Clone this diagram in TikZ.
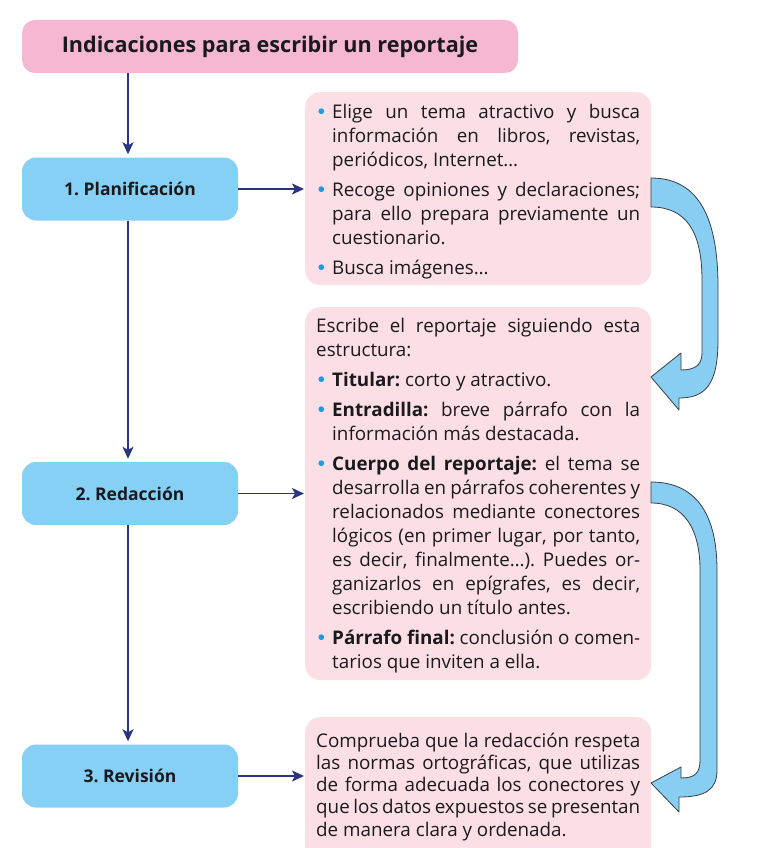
\documentclass[tikz,border=0pt]{standalone}
\usepackage{fontspec}
\setmainfont{Open Sans}
\usetikzlibrary{arrows.meta}
\definecolor{titlepink}{RGB}{245,183,210}
\definecolor{stepblue}{RGB}{135,208,245}
\definecolor{softpink}{RGB}{252,223,229}
\definecolor{navy}{RGB}{42,52,128}
\definecolor{dotblue}{RGB}{30,155,224}
\definecolor{txt}{RGB}{26,26,30}
\definecolor{curvefill}{RGB}{135,206,242}
\definecolor{curveline}{RGB}{60,60,70}
\frenchspacing
% justified line / last line / bulleted variants
\newcommand\jl[1]{\hbox to 324pt{#1}}
\newcommand\el[1]{\hbox to 324pt{#1\hfil}}
\newcommand\bjl[1]{\moveright16pt\hbox to 308pt{#1}}
\newcommand\bel[1]{\moveright16pt\hbox to 308pt{#1\hfil}}
\newcommand\bdot{\llap{\tikz[baseline=-7pt]\fill[dotblue] (0,0) circle (2.9pt);\hspace{8pt}}}
\newcommand\strt{\rule{0pt}{18pt}}
\begin{document}
\begin{tikzpicture}[x=1pt,y=-1pt,
  stepbox/.style={fill=stepblue, rounded corners=14pt, minimum width=216pt, minimum height=63pt, inner sep=0pt, font=\fontsize{17.5}{20}\selectfont\bfseries, text=txt},
  panel/.style={fill=softpink, rounded corners=15pt, minimum width=346pt, inner sep=0pt, anchor=north west},
  bodytext/.style={anchor=north west, inner sep=0pt, font=\fontsize{18.8}{24}\selectfont\frenchspacing, text=txt},
  link/.style={draw=navy, line width=1.8pt, -{Stealth[length=12pt,width=11pt,inset=3pt]}},
  bigarrow/.style={fill=curvefill, draw=curveline, line width=0.8pt, line join=round}]
\useasboundingbox (0,0) rectangle (760,848);
\clip (0,0) rectangle (760,848);

\node[fill=titlepink, rounded corners=13pt, minimum width=496pt, minimum height=53pt, inner sep=0pt, font=\fontsize{21.6}{24}\selectfont\bfseries, text=txt] (title) at (270,46.5) {Indicaciones para escribir un reportaje};

\node[stepbox] (s1) at (130,189) {1. Planificación};
\node[stepbox] (s2) at (130,493.5) {2. Redacción};
\node[stepbox] (s3) at (130,776) {3. Revisión};

\node[panel, minimum height=193pt] (pA) at (305,92) {};
\node[panel, minimum height=373pt] (pB) at (305,307) {};
\node[panel, minimum height=150pt] (pC) at (305,717) {};

\node[bodytext] (tA) at (316,100) {\vbox{\hsize=324pt
\bjl{\strt\bdot Elige un tema atractivo y busca}
\bjl{información en libros, revistas,}
\bel{periódicos, Internet…}
\vskip6pt
\bjl{\bdot Recoge opiniones y declaraciones;}
\bjl{para ello prepara previamente un}
\bel{cuestionario.}
\vskip6pt
\bel{\bdot Busca imágenes…}}};

\node[bodytext] (tB) at (316,314) {\vbox{\hsize=324pt
\jl{\strt Escribe el reportaje siguiendo esta}
\el{estructura:}
\vskip6pt
\bel{\bdot\textbf{Titular:} corto y atractivo.}
\vskip6pt
\bjl{\bdot\textbf{Entradilla:} breve párrafo con la}
\bel{información más destacada.}
\vskip6pt
\bjl{\bdot\textbf{Cuerpo del reportaje:} el tema se}
\bjl{desarrolla en párrafos coherentes y}
\bjl{relacionados mediante conectores}
\bjl{lógicos (en primer lugar, por tanto,}
\bjl{es decir, finalmente…). Puedes or-}
\bjl{ganizarlos en epígrafes, es decir,}
\bel{escribiendo un título antes.}
\vskip6pt
\bjl{\bdot\textbf{Párrafo final:} conclusión o comen-}
\bel{tarios que inviten a ella.}}};

\node[bodytext, font=\fontsize{18.8}{22.2}\selectfont\frenchspacing] (tC) at (316,729) {\vbox{\hsize=324pt
\jl{\strt Comprueba que la redacción respeta}
\jl{las normas ortográficas, que utilizas}
\jl{de forma adecuada los conectores y}
\jl{que los datos expuestos se presentan}
\el{de manera clara y ordenada.}}};

\draw[link, shorten >=3pt] ([xshift=-2pt]title.south -| s1.north) -- ([xshift=-2pt]s1.north);
\draw[link, shorten >=3pt] ([xshift=-2pt]s1.south) -- ([xshift=-2pt]s2.north);
\draw[link, shorten >=3pt] ([xshift=-2pt]s2.south) -- ([xshift=-2pt]s3.north);
\draw[link, shorten >=1pt] (s1.east) -- (s1.east -| pA.west);
\draw[link, shorten >=1pt] (s2.east) -- (s2.east -| pB.west);
\draw[link, shorten >=1pt] (s3.east) -- (s3.east -| pC.west);

\path[bigarrow] (651,178) .. controls (700,178) and (718,220) .. (718,287) -- (718,340) .. controls (718,385) and (705,398) .. (679,398) -- (679,410) -- (651,377) -- (681,353) -- (681,370) .. controls (695,370) and (702,365) .. (702,353) -- (702,280) .. controls (702,230) and (685,207) .. (651,207) -- cycle;

\path[bigarrow] (651,482) .. controls (700,482) and (717,520) .. (717,570) -- (717,770) .. controls (717,790) and (705,797) .. (679,797) -- (679,812) -- (651,783) -- (681,767) -- (681,778) .. controls (695,778) and (700,773) .. (700,760) -- (700,570) .. controls (700,530) and (685,503) .. (651,503) -- cycle;
\end{tikzpicture}
\end{document}
